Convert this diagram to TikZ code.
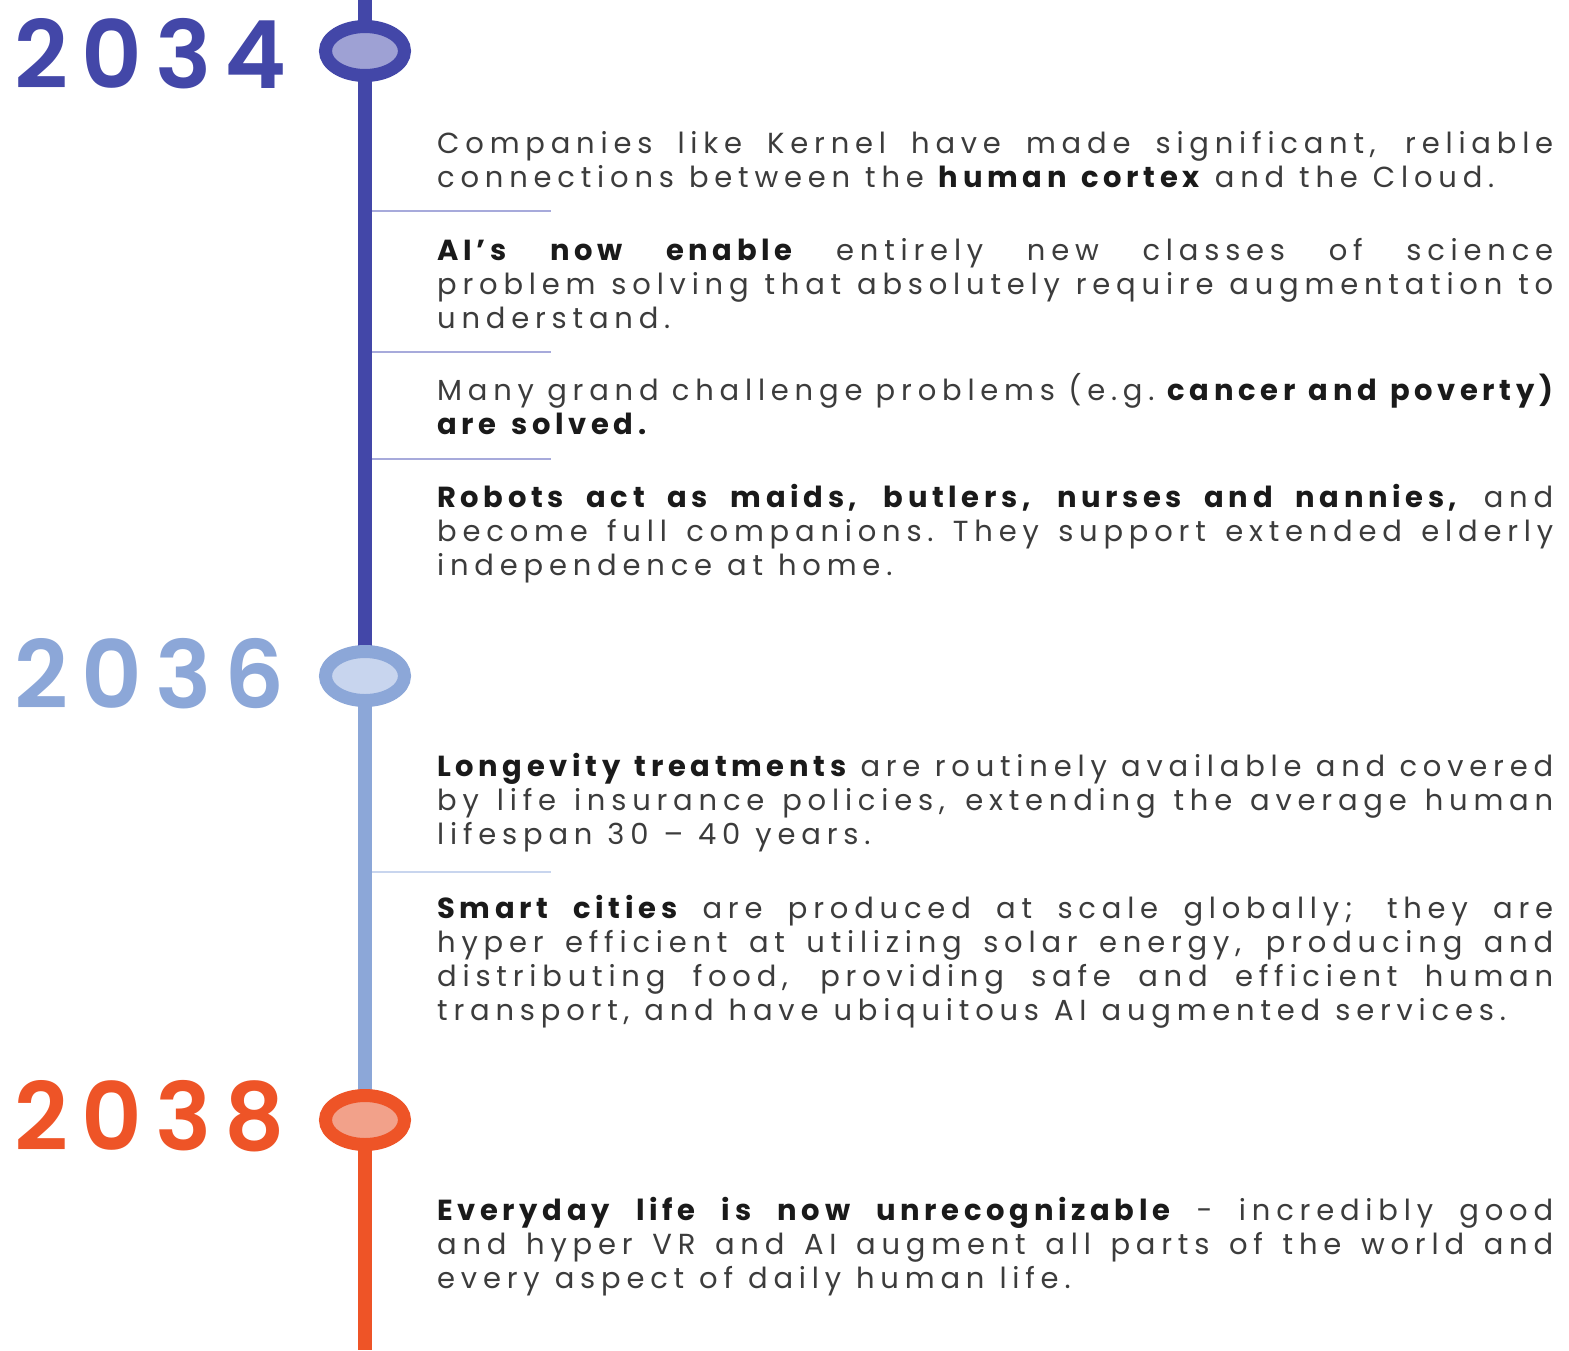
\documentclass[tikz,border=0pt]{standalone}
\usepackage{fontspec}
\setmainfont{Poppins}[LetterSpace=20, BoldFeatures={LetterSpace=16}]
\newfontfamily\yearfont{Poppins SemiBold}[LetterSpace=14]
\usetikzlibrary{shapes.geometric}
\definecolor{cA}{HTML}{4347A8}
\definecolor{cAf}{HTML}{9EA1D4}
\definecolor{cAs}{HTML}{A7AADB}
\definecolor{cB}{HTML}{8CA7D8}
\definecolor{cBf}{HTML}{C8D5EE}
\definecolor{cC}{HTML}{EE5427}
\definecolor{cCf}{HTML}{F2A18A}
\definecolor{txt}{HTML}{3C3C3C}
\definecolor{btxt}{HTML}{1A1A1A}
\newcommand\jl[1]{\makebox[1116pt][s]{\spaceskip=7.5pt plus 1fil minus 4pt\relax\xspaceskip=\spaceskip #1}}
\newcommand\bt[1]{{\bfseries\color{btxt}#1}}
\newcommand\setsp{\spaceskip=15pt\relax\xspaceskip=15pt\relax}
\tikzset{
  yearlabel/.style={font=\yearfont\fontsize{94}{94}\selectfont, inner sep=0pt, anchor=base west},
  para/.style={font=\fontsize{29}{34}\selectfont, execute at begin node=\setsp, text=txt, inner sep=0pt, anchor=base west, text width=1116pt, align=left},
  dotnode/.style={ellipse, draw=#1, line width=13pt, minimum width=79pt, minimum height=49pt, inner sep=0pt},
  spine/.style={line width=14pt, draw=#1},
  sepline/.style={line width=2.5pt, draw=#1}
}
\begin{document}
\begin{tikzpicture}[x=1pt,y=-1pt]
\fill[white] (0,0) rectangle (1569,1350);
\useasboundingbox (0,0) rectangle (1569,1350);
% coordinates of the spine
\coordinate (top) at (365,0);
\coordinate (k1) at (365,51);
\coordinate (k2) at (365,676);
\coordinate (k3) at (365,1120);
\coordinate (bot) at (365,1350);
\draw[spine=cA] (top) -- (k2);
\draw[spine=cB] (k2) -- (k3);
\draw[spine=cC] (k3) -- (bot);
% separators
\coordinate (s1a) at (372,211); \coordinate (s1b) at (551,211);
\coordinate (s2a) at (372,352); \coordinate (s2b) at (551,352);
\coordinate (s3a) at (372,459); \coordinate (s3b) at (551,459);
\coordinate (s4a) at (372,872); \coordinate (s4b) at (551,872);
\draw[sepline=cAs] (s1a) -- (s1b);
\draw[sepline=cAs] (s2a) -- (s2b);
\draw[sepline=cAs] (s3a) -- (s3b);
\draw[sepline=cBf] (s4a) -- (s4b);
% dots
\node[dotnode=cA, fill=cAf] (d1) at (k1) {};
\node[dotnode=cB, fill=cBf] (d2) at (k2) {};
\node[dotnode=cC, fill=cCf] (d3) at (k3) {};
% years
\node[yearlabel, text=cA] (y1) at (14,88) {2034};
\node[yearlabel, text=cB] (y2) at (14,708) {2036};
\node[yearlabel, text=cC] (y3) at (14,1150) {2038};
% paragraphs
\node[para] (p1) at (437,153) {\jl{Companies like Kernel have made significant, reliable}\\
connections between the \bt{human cortex} and the Cloud.};
\node[para] (p2) at (437,260) {\jl{\bt{AI’s now enable} entirely new classes of science}\\
\jl{problem solving that absolutely require augmentation to}\\
understand.};
\node[para] (p3) at (437,400) {\jl{Many grand challenge problems (e.g. \bt{cancer and poverty)}}\\
\bt{are solved.}};
\node[para] (p4) at (437,507) {\jl{\bt{Robots act as maids, butlers, nurses and nannies,} and}\\
\jl{become full companions. They support extended elderly}\\
independence at home.};
\node[para] (p5) at (437,776) {\jl{\bt{Longevity treatments} are routinely available and covered}\\
\jl{by life insurance policies, extending the average human}\\
lifespan 30 – 40 years.};
\node[para] (p6) at (437,918) {\jl{\bt{Smart cities} are produced at scale globally; they are}\\
\jl{hyper efficient at utilizing solar energy, producing and}\\
\jl{distributing food, providing safe and efficient human}\\
transport, and have ubiquitous AI augmented services.};
\node[para] (p7) at (437,1220) {\jl{\bt{Everyday life is now unrecognizable} - incredibly good}\\
\jl{and hyper VR and AI augment all parts of the world and}\\
every aspect of daily human life.};
\end{tikzpicture}
\end{document}
